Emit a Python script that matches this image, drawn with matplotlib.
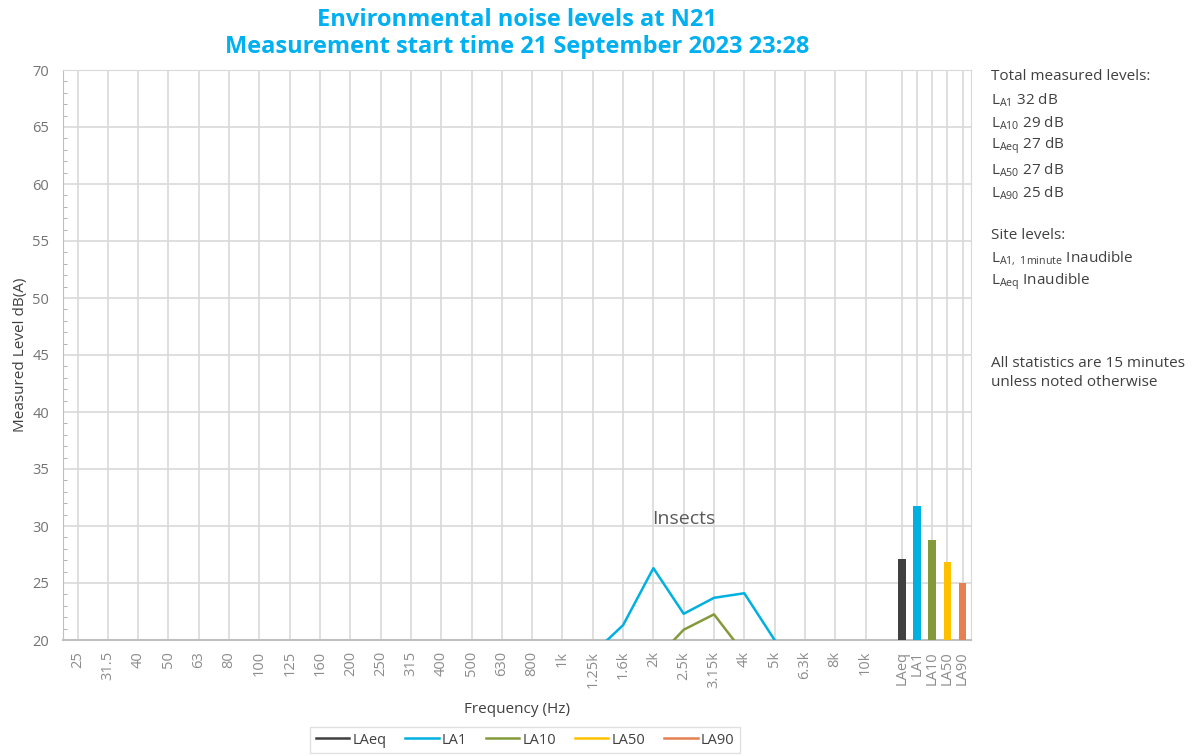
import matplotlib
matplotlib.use("Agg")
import matplotlib.pyplot as plt
import numpy as np

plt.rcParams['font.family'] = ['Open Sans', 'DejaVu Sans']
plt.rcParams['mathtext.fontset'] = 'custom'
plt.rcParams['mathtext.rm'] = 'Open Sans'
plt.rcParams['mathtext.it'] = 'Open Sans'

nan = np.nan

# one-third octave bands
bands = ['25', '31.5', '40', '50', '63', '80', '100', '125', '160', '200', '250',
         '315', '400', '500', '630', '800', '1k', '1.25k', '1.6k', '2k', '2.5k',
         '3.15k', '4k', '5k', '6.3k', '8k', '10k']

# spectra (values below 20 dB fall off the chart)
la1 = [nan] * 17 + [18.8, 21.3, 26.3, 22.3, 23.7, 24.1, 20.0, nan, nan, nan]
la10 = [nan] * 19 + [18.1, 20.9, 22.25, 18.8, nan, nan, nan, nan]
laeq = [nan] * 27
la50 = [nan] * 27
la90 = [nan] * 27

# overall levels
stats = ['LAeq', 'LA1', 'LA10', 'LA50', 'LA90']
totals = [27.1, 31.75, 28.8, 26.8, 25.0]

colors = {'LAeq': '#404040', 'LA1': '#00B0E0', 'LA10': '#849A3A',
          'LA50': '#FFC000', 'LA90': '#E58050'}

fig = plt.figure(figsize=(11.94, 7.56), dpi=100)
ax = fig.add_axes([63 / 1194, 116 / 756, 908 / 1194, 570 / 756])

x = np.arange(len(bands))
series = {'LAeq': laeq, 'LA1': la1, 'LA10': la10, 'LA50': la50, 'LA90': la90}
for name, vals in series.items():
    ax.plot(x, vals, color=colors[name], lw=1.8, label=name, zorder=3)

bar_x = 27.2 + 0.5 * np.arange(len(stats))
ax.bar(bar_x, np.array(totals) - 20, bottom=20, width=0.25,
       color=[colors[s] for s in stats], zorder=3)

ax.set_xlim(-0.48, 29.48)
ax.set_ylim(20, 70)
ax.set_xticks(list(x) + list(bar_x))
ax.set_xticklabels(bands + stats, rotation=90, color='#8C8C8C', fontsize=10.5)
ax.set_yticks(range(20, 71, 5))
ax.set_yticks(range(20, 71), minor=True)
ax.tick_params(axis='y', labelsize=10.5, labelcolor='#737373', length=0, pad=10)
ax.tick_params(axis='y', which='minor', direction='in', length=3, color='#A6A6A6')
ax.tick_params(axis='x', length=0, pad=8)
ax.grid(True, color='#D9D9D9', lw=1.2, zorder=0)
ax.set_axisbelow(True)
for sp in ax.spines.values():
    sp.set_color('#D9D9D9')
ax.spines['left'].set_color('#BFBFBF')
ax.spines['bottom'].set_color('#BFBFBF')
ax.spines['bottom'].set_linewidth(1.5)

ax.set_ylabel('Measured Level dB(A)', fontsize=11, color='#404040', labelpad=3)
ax.set_xlabel('Frequency (Hz)', fontsize=11, color='#404040', labelpad=10)

ax.text(20.0, 30.6, 'Insects', fontsize=14, color='#595959', ha='center', va='center')

fig.text(517 / 1194, 1 - 20 / 756, 'Environmental noise levels at N21',
         ha='center', va='center', fontsize=17, fontweight='bold', color='#00B0F0')
fig.text(517 / 1194, 1 - 47 / 756, 'Measurement start time 21 September 2023 23:28',
         ha='center', va='center', fontsize=17, fontweight='bold', color='#00B0F0')

side = [
    (77, 'Total measured levels:'),
    (100, r'L$_{\mathrm{A1}}$ 32 dB'),
    (123, r'L$_{\mathrm{A10}}$ 29 dB'),
    (146, r'L$_{\mathrm{Aeq}}$ 27 dB'),
    (170, r'L$_{\mathrm{A50}}$ 27 dB'),
    (193, r'L$_{\mathrm{A90}}$ 25 dB'),
    (235, 'Site levels:'),
    (258, r'L$_{\mathrm{A1,\ 1minute}}$ Inaudible'),
    (282, r'L$_{\mathrm{Aeq}}$ Inaudible'),
    (363, 'All statistics are 15 minutes'),
    (383, 'unless noted otherwise'),
]
for yy, txt in side:
    fig.text(991 / 1194, 1 - yy / 756, txt, ha='left', va='center',
             fontsize=11, color='#404040')

leg = fig.legend(loc='center', bbox_to_anchor=(525 / 1194, 1 - 740 / 756), ncol=5,
                 frameon=True, fontsize=10.5, handlelength=2.3, columnspacing=1.3,
                 borderpad=0.4, handletextpad=0.2)
leg.get_frame().set_edgecolor('#D9D9D9')
leg.get_frame().set_boxstyle('square', pad=0)
for t in leg.get_texts():
    t.set_color('#404040')

fig.savefig('out.png', dpi=100)
